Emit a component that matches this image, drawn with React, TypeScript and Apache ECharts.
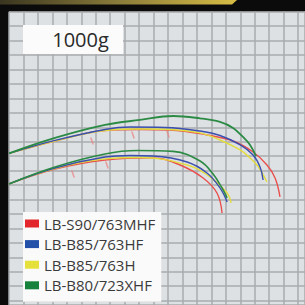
import React, { useEffect, useRef } from "react";
import * as echarts from "echarts";

// Rod names (legend order)
const rodNames = ["LB-S90/763MHF", "LB-B85/763HF", "LB-B85/763H", "LB-B80/723XHF"];
const rodColors = ["#e2282c", "#2350a8", "#e6e03a", "#17823b"];
const lineColors = ["#e8504e", "#3a4fae", "#e2dc3e", "#2b8a44"];

// Curve points in grid-cell units [x, y] (y counted downward from the top)
const redUpper = [[0, 9.81], [3.18, 8.95], [6.64, 8.22], [9.07, 8.15], [11.14, 8.19], [13.7, 8.53], [15.5, 8.95], [16.89, 9.71], [17.85, 10.61], [18.41, 11.51], [18.75, 12.82]];
const blueUpper = [[0, 9.81], [3.18, 8.91], [6.64, 8.15], [8.37, 7.98], [10.8, 8.01], [13.22, 8.26], [14.6, 8.57], [16.0, 9.22], [16.89, 9.92], [17.37, 10.75], [17.58, 11.65]];
const yellowUpper = [[0, 9.81], [3.18, 8.95], [6.64, 8.22], [9.07, 8.12], [11.14, 8.15], [13.22, 8.39], [14.6, 8.88], [15.99, 9.57], [16.68, 10.12], [17.16, 10.61], [17.51, 11.16], [17.85, 11.79]];
const greenUpper = [[0, 9.81], [3.18, 8.74], [6.64, 7.84], [9.07, 7.49], [11.35, 7.22], [13.22, 7.38], [14.6, 7.63], [15.5, 8.05], [16.19, 8.67], [16.68, 9.22], [17.09, 9.99]];

const redLower = [[0, 11.92], [3.18, 10.89], [6.64, 10.26], [9.97, 10.12], [11.83, 10.61], [13.43, 11.51], [14.39, 12.55], [14.74, 13.93]];
const blueLower = [[0, 11.92], [3.18, 10.82], [6.64, 10.06], [8.37, 9.95], [9.97, 9.99], [12.32, 10.4], [13.7, 11.16], [14.6, 12.2], [15.09, 13.17]];
const yellowLower = [[0, 11.92], [3.18, 10.85], [6.64, 10.19], [9.07, 10.09], [12.32, 10.61], [13.91, 11.44], [15.09, 12.55], [15.36, 13.24]];
const greenLower = [[0, 11.92], [3.18, 10.75], [6.64, 9.85], [8.86, 9.61], [11.35, 9.67], [13.22, 10.33], [14.12, 11.23], [14.74, 12.2], [15.09, 12.89]];

// Guide marks along the curves
const guideMarks = [[5.67, 8.67], [8.51, 8.26], [10.93, 8.19], [4.36, 10.95], [6.71, 10.33]];

const loadLabel = "1000g";

export default function App() {
  const ref = useRef<HTMLDivElement>(null);
  useEffect(() => {
    if (!ref.current) return;
    const chart = echarts.init(ref.current, undefined, { renderer: "svg" });
    const mk = (idx: number, data: number[][], width: number, z: number) => ({
      type: "line",
      name: rodNames[idx],
      data,
      smooth: 0.4,
      symbol: "none",
      z,
      itemStyle: { color: rodColors[idx] },
      lineStyle: { color: lineColors[idx], width },
    });
    chart.setOption({
      animation: false,
      backgroundColor: "#0b0b0b",
      grid: {
        left: 9,
        top: 11.7,
        right: 0,
        bottom: 0,
        show: true,
        backgroundColor: "#dee1e4",
        borderWidth: 0,
      },
      xAxis: {
        type: "value",
        min: 0,
        max: 20.48,
        interval: 1,
        axisLine: { show: false },
        axisTick: { show: false },
        axisLabel: { show: false },
        splitLine: { show: true, lineStyle: { color: "#a8abae", width: 1.5 } },
      },
      yAxis: {
        type: "value",
        inverse: true,
        min: 0,
        max: 20.3,
        interval: 1,
        axisLine: { show: false },
        axisTick: { show: false },
        axisLabel: { show: false },
        splitLine: { show: true, lineStyle: { color: "#a8abae", width: 1.5 } },
      },
      legend: {
        data: rodNames,
        orient: "vertical",
        left: 23,
        top: 212,
        backgroundColor: "#fafafa",
        padding: [4, 6, 9, 2],
        itemWidth: 14,
        itemHeight: 8,
        itemGap: 5.6,
        icon: "rect",
        selectedMode: false,
        textStyle: { fontFamily: "Open Sans", fontSize: 15, color: "#3a3a3a", lineHeight: 15 },
      },
      graphic: [
        {
          type: "polygon",
          z: 100,
          shape: { points: [[0, 0], [237, 0], [232, 4.5], [0, 4.5]] },
          style: {
            fill: new echarts.graphic.LinearGradient(0, 0, 1, 0, [
              { offset: 0, color: "#3a3520" },
              { offset: 0.5, color: "#8a7c3a" },
              { offset: 1, color: "#d8bd45" },
            ]),
          },
        },
        {
          type: "rect",
          z: 100,
          shape: { x: 23, y: 25, width: 100, height: 29 },
          style: { fill: "#fbfbfb" },
        },
        {
          type: "text",
          z: 101,
          x: 80.5,
          y: 39,
          style: {
            text: loadLabel,
            fontFamily: "Open Sans",
            fontSize: 20,
            fill: "#2a2a2a",
            align: "center",
            verticalAlign: "middle",
          },
        },
      ],
      series: [
        {
          type: "scatter",
          name: "guides",
          data: guideMarks,
          symbol: "path://M0,0 L2,0 L5,8 L3,8 Z",
          symbolSize: [4, 7],
          symbolOffset: [1, 4],
          itemStyle: { color: "#e98a8a" },
          z: 1,
        },
        mk(0, redUpper, 1.4, 2),
        mk(0, redLower, 1.4, 2),
        mk(2, yellowUpper, 1.4, 3),
        mk(2, yellowLower, 1.4, 3),
        mk(1, blueUpper, 1.4, 4),
        mk(1, blueLower, 1.4, 4),
        mk(3, greenUpper, 1.8, 5),
        mk(3, greenLower, 1.6, 5),
      ],
    });
    return () => chart.dispose();
  }, []);
  return <div ref={ref} style={{ position: "fixed", left: 0, top: 0, width: 305, height: 305 }} />;
}
